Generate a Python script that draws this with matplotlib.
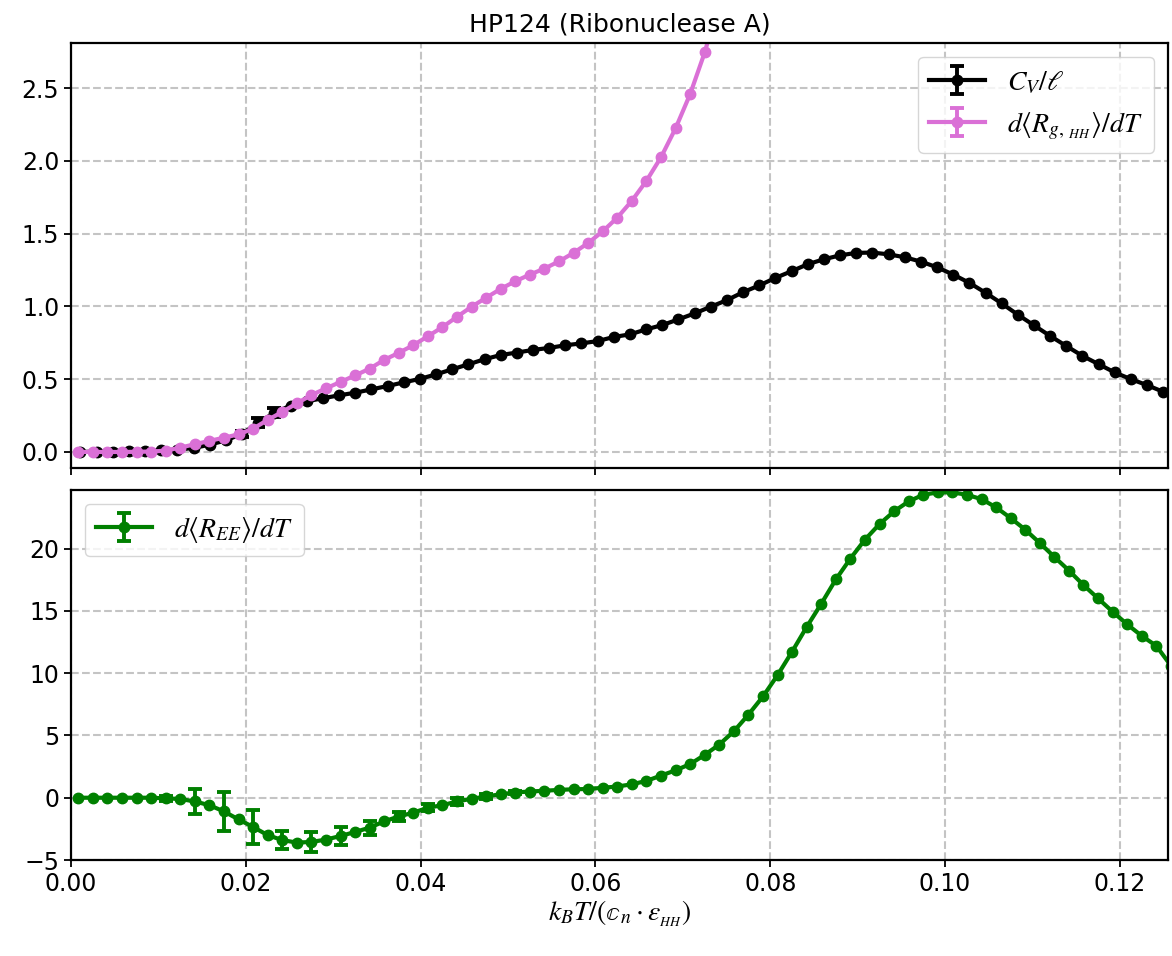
import matplotlib
matplotlib.use('Agg')
import matplotlib.pyplot as plt
import numpy as np

plt.rcParams['mathtext.fontset'] = 'stix'
plt.rcParams['font.family'] = 'DejaVu Sans'

# Temperature grids (k_B T / (c_n * eps_HH))
T_cv = np.linspace(0.00108, 0.12496, 68)          # heat capacity grid
T_der = 0.00083 + np.arange(76) / 600.0            # derivative grid (mid-points)

# C_V / l
cv = [0.0, 0.002, 0.003, 0.005, 0.008, 0.011, 0.016, 0.027, 0.050, 0.080,
      0.125, 0.200, 0.270, 0.318, 0.348, 0.369, 0.389, 0.407, 0.430, 0.453,
      0.478, 0.502, 0.533, 0.568, 0.602, 0.637, 0.666, 0.683, 0.701, 0.715,
      0.733, 0.746, 0.762, 0.790, 0.808, 0.842, 0.872, 0.911, 0.952, 0.998,
      1.043, 1.098, 1.144, 1.196, 1.242, 1.290, 1.324, 1.351, 1.368, 1.370,
      1.358, 1.338, 1.308, 1.269, 1.219, 1.162, 1.094, 1.021, 0.943, 0.870,
      0.797, 0.728, 0.660, 0.603, 0.546, 0.500, 0.459, 0.413]
cv_err = [np.nan] * 68
cv_err[10] = 0.02
cv_err[11] = 0.03
cv_err[12] = 0.03

# d<R_g,HH>/dT
drg = [0.0, 0.0, 0.0, 0.0, 0.001, 0.003, 0.009, 0.030, 0.053, 0.076,
       0.098, 0.121, 0.160, 0.220, 0.275, 0.334, 0.391, 0.437, 0.481, 0.526,
       0.572, 0.633, 0.681, 0.734, 0.795, 0.858, 0.929, 0.998, 1.060, 1.121,
       1.173, 1.219, 1.260, 1.310, 1.368, 1.436, 1.516, 1.610, 1.726, 1.863,
       2.025, 2.224, 2.459, 2.745, 3.10]
drg_err = [np.nan] * len(drg)

# d<R_EE>/dT
dree = [0.0, 0.0, 0.0, 0.0, 0.0, 0.0, -0.05, -0.1, -0.3, -0.6,
        -1.1, -1.74, -2.35, -3.0, -3.4, -3.6, -3.55, -3.36, -3.07, -2.75,
        -2.4, -1.9, -1.5, -1.2, -0.8, -0.6, -0.3, -0.08, 0.1, 0.28,
        0.42, 0.5, 0.56, 0.63, 0.68, 0.7, 0.8, 0.9, 1.08, 1.35,
        1.78, 2.2, 2.7, 3.44, 4.27, 5.33, 6.67, 8.13, 9.84, 11.73,
        13.71, 15.57, 17.52, 19.2, 20.72, 21.97, 22.99, 23.79, 24.32, 24.51,
        24.51, 24.32, 23.97, 23.31, 22.45, 21.52, 20.45, 19.33, 18.24, 17.07,
        16.0, 14.93, 13.92, 12.99, 12.19, 10.6]
dree_err = [np.nan] * 76
for k, e in {6: 0.2, 8: 1.0, 10: 1.56, 12: 1.4, 14: 0.73, 16: 0.8, 18: 0.76,
             20: 0.57, 22: 0.35, 24: 0.3, 26: 0.25, 28: 0.2, 30: 0.12}.items():
    dree_err[k] = e

TICK_SIZE = 17
LEG_SIZE = 20
style = dict(marker='o', markersize=7.5, linewidth=3.0, capsize=5, capthick=2.8, elinewidth=2.8)

fig = plt.figure(figsize=(11.72, 9.56), dpi=100)
ax1 = fig.add_axes([0.0606, 0.5105, 0.936, 0.4445])
ax2 = fig.add_axes([0.0606, 0.1004, 0.936, 0.387], sharex=ax1)

ax1.errorbar(T_cv, cv, yerr=cv_err, color='black', label=r'$C_V/\ell$', **style)
ax1.errorbar(T_der[:len(drg)], drg, yerr=drg_err, color='orchid',
             label=r'$d\langle R_{g,\,_{HH}}\rangle/dT$', **style)
ax2.errorbar(T_der, dree, yerr=dree_err, color='green',
             label=r'$d\langle R_{EE}\rangle/dT$', **style)

ax1.set_title('HP124 (Ribonuclease A)', fontsize=18, pad=8)
ax1.set_xlim(0, 0.1255)
ax1.set_ylim(-0.11, 2.81)
ax2.set_ylim(-5.0, 24.7)
ax1.set_yticks(np.arange(0, 2.51, 0.5))
ax2.set_yticks(np.arange(-5, 21, 5))
ax2.set_xticks(np.arange(0, 0.121, 0.02))
ax2.set_xlabel(r'$k_B T/(\mathbb{c}_n \cdot \varepsilon_{_{HH}})$', fontsize=20, labelpad=2)

for ax in (ax1, ax2):
    ax.grid(True, color='#c4c4c4', linestyle='--', linewidth=1.5)
    ax.set_axisbelow(True)
    ax.tick_params(axis='both', labelsize=TICK_SIZE, width=1.3, length=5)
    for s in ax.spines.values():
        s.set_linewidth(1.6)
plt.setp(ax1.get_xticklabels(), visible=False)

ax1.legend(loc='upper right', fontsize=LEG_SIZE)
ax2.legend(loc='upper left', fontsize=LEG_SIZE)

fig.savefig('out.png', dpi=100)
plt.close(fig)
